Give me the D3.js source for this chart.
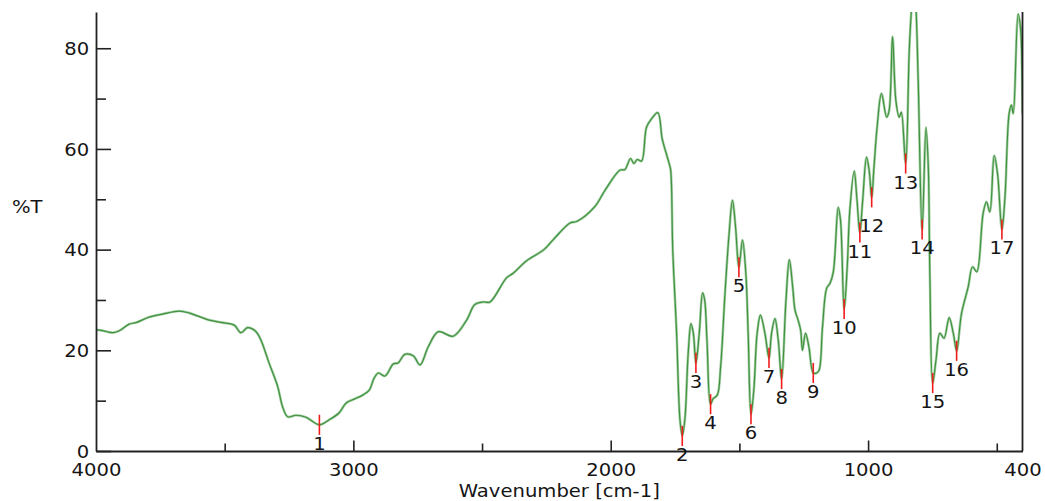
<!DOCTYPE html>
<html><head><meta charset="utf-8">
<script src="https://cdn.jsdelivr.net/npm/d3@7"></script>
<style>html,body{margin:0;padding:0;background:#fff;} svg{display:block;}</style>
</head><body>
<svg id="chart" width="1045" height="501"></svg>
<script>
// ---- data ----
const wavenumber = [4000,3974,3935,3909,3871,3845,3793,3741,3676,3637,3560,3508,3463,3437,3411,3378,3359,3327,3294,3275,3255,3223,3184,3132,3094,3055,3029,2997,2964,2938,2920,2903,2877,2845,2826,2800,2767,2741,2709,2670,2612,2560,2528,2495,2469,2405,2379,2327,2262,2223,2158,2132,2061,2022,1964,1945,1923,1910,1897,1880,1861,1841,1817,1800,1786,1773,1767,1759,1744,1731,1722,1712,1699,1688,1679,1669,1656,1643,1635,1626,1612,1602,1586,1573,1556,1540,1527,1515,1502,1488,1475,1466,1455,1444,1431,1418,1401,1385,1375,1362,1349,1336,1319,1306,1293,1284,1272,1262,1255,1243,1230,1213,1200,1190,1177,1161,1148,1135,1116,1107,1093,1081,1071,1054,1043,1032,1021,1006,996,986,977,965,948,928,918,905,892,879,871,854,840,831,822,814,805,790,775,766,760,749,736,721,705,685,669,656,637,611,594,578,553,540,527,510,497,480,468,452,443,436,417,408,400];
const transmittance = [24.1,23.9,23.5,23.9,25.2,25.5,26.6,27.2,27.8,27.4,26.0,25.5,25.0,23.5,24.5,23.7,22.0,17.4,12.8,8.8,6.8,7.1,6.7,5.2,6.2,7.6,9.5,10.3,11.1,12.1,14.4,15.5,14.9,17.3,17.5,19.2,18.9,17.1,20.7,23.7,22.8,26.0,29.1,29.6,29.6,34.4,35.3,37.8,39.9,42.0,45.3,45.6,48.6,51.8,55.8,55.9,58.1,57.1,57.9,57.6,64.3,66.0,67.2,62.0,59.4,57.1,55.8,40.0,23.4,6.2,3.0,6.2,19.4,25.3,23.4,17.5,23.4,31.4,30.0,22.0,9.3,10.4,11.1,16.7,31.3,43.2,49.8,44.5,36.5,41.9,35.3,23.4,7.3,12.1,23.4,27.0,23.4,18.5,23.4,26.3,22.0,14.3,30.0,38.0,32.6,28.0,26.0,24.0,20.0,23.4,20.7,15.5,15.5,16.1,24.7,32.3,33.3,35.6,48.4,45.8,28.2,36.6,47.8,55.6,49.8,43.4,49.8,58.4,55.8,50.4,56.4,64.3,71.0,66.3,67.7,82.3,69.6,66.3,67.3,57.1,79.6,88.0,93.0,88.0,73.0,44.0,64.3,56.4,35.3,13.5,18.1,23.4,22.4,26.5,23.4,19.9,27.3,32.6,36.6,35.6,47.2,49.5,47.5,58.7,55.1,44.0,50.5,67.0,68.7,67.0,86.8,84.2,67.0];

const peakNumbers = [1,2,3,4,5,6,7,8,9,10,11,12,13,14,15,16,17];
const peakWavenumber = [3132,1722,1669,1612,1502,1455,1385,1336,1213,1093,1032,986,854,790,749,656,480];
const peakTransmittance = [5.2,3.0,17.5,9.3,36.5,7.3,18.5,14.3,15.5,28.2,43.4,50.4,57.1,44.0,13.5,19.9,44.0];

const xTickLabels = [4000,3000,2000,1000,400];
const xMajorTickMarks = [3000,2000,1000];
const xMinorTickMarks = [3500,2500,1500,500];
const yMajorTicks = [0,20,40,60,80];
const yMinorTicks = [10,30,50,70];

const xTitle = "Wavenumber [cm-1]";
const yTitle = "%T";

// ---- layout ----
const FONT = "DejaVu Sans";
const FS = 17.5;
const SX = 1.12; // horizontal stretch of the reference lettering
const textColor = "#151515";
const axisColor = "#222";

const svg = d3.select('#chart');
const x = d3.scaleLinear().domain([4000,400]).range([96,1022.5]);
const y = d3.scaleLinear().domain([0,87.2]).range([451,12]);

svg.append("defs").append("clipPath").attr("id","plotclip")
  .append("rect").attr("x",x(4000)).attr("y",y(87.2))
  .attr("width",x(400)-x(4000)).attr("height",y(0)-y(87.2));

// spectrum
const pts = wavenumber.map((w,i)=>[w,transmittance[i]]);
const line = d3.line().x(d=>x(d[0])).y(d=>y(d[1])).curve(d3.curveCatmullRom.alpha(0.5));
const g = svg.append("g").attr("clip-path","url(#plotclip)");
g.append("path").datum(pts).attr("d",line)
  .attr("fill","none").attr("stroke","#a8cfa8").attr("stroke-width",2.6).attr("stroke-linejoin","round");
g.append("path").datum(pts).attr("d",line)
  .attr("fill","none").attr("stroke","#3f933f").attr("stroke-width",1.2).attr("stroke-linejoin","round");

// x axis: tick marks pointing up (major longer than minor)
const xAxisMarks = svg.append("g").attr("transform",`translate(0,${y(0)})`)
  .call(d3.axisBottom(x).tickValues(xMajorTickMarks).tickSizeInner(-10.5).tickSizeOuter(0).tickFormat(""));
xAxisMarks.select(".domain").attr("stroke",axisColor).attr("stroke-width",1.8);
xAxisMarks.selectAll(".tick line").attr("stroke",axisColor).attr("stroke-width",1.6);

const xAxisMinor = svg.append("g").attr("transform",`translate(0,${y(0)})`)
  .call(d3.axisBottom(x).tickValues(xMinorTickMarks).tickSizeInner(-7.5).tickSizeOuter(0).tickFormat(""));
xAxisMinor.select(".domain").remove();
xAxisMinor.selectAll(".tick line").attr("stroke",axisColor).attr("stroke-width",1.6);

const xAxisLabels = svg.append("g").attr("transform",`translate(0,${y(0)})`)
  .call(d3.axisBottom(x).tickValues(xTickLabels).tickSize(0).tickFormat(d3.format("d")));
xAxisLabels.select(".domain").remove();
xAxisLabels.selectAll(".tick text")
  .attr("y",25).attr("dy",0)
  .attr("transform",`scale(${SX},1)`)
  .attr("font-family",FONT).attr("font-size",FS).attr("fill",textColor);

// y axis: major and minor ticks pointing right
const yAxis = svg.append("g").attr("transform",`translate(${x(4000)},0)`)
  .call(d3.axisLeft(y).tickValues(yMajorTicks).tickSizeInner(-15).tickSizeOuter(0).tickPadding(6).tickFormat(d3.format("d")));
yAxis.select(".domain").attr("stroke",axisColor).attr("stroke-width",1.8);
yAxis.selectAll(".tick line").attr("stroke",axisColor).attr("stroke-width",1.6);
yAxis.selectAll(".tick text")
  .attr("x",-6).attr("dy","0.36em")
  .attr("transform",`scale(${SX},1)`)
  .attr("font-family",FONT).attr("font-size",FS).attr("fill",textColor);

const yMinor = svg.append("g").attr("transform",`translate(${x(4000)},0)`)
  .call(d3.axisLeft(y).tickValues(yMinorTicks).tickSizeInner(-10).tickSizeOuter(0).tickFormat(""));
yMinor.select(".domain").remove();
yMinor.selectAll(".tick line").attr("stroke",axisColor).attr("stroke-width",1.6);

// right frame line
svg.append("line").attr("x1",x(400)).attr("x2",x(400)).attr("y1",y(0)).attr("y2",y(87.2))
  .attr("stroke",axisColor).attr("stroke-width",1.8);

// axis titles
function stretchedText(parent, tx, ty, str, anchor){
  return parent.append("text")
    .attr("transform",`translate(${tx},${ty}) scale(${SX},1)`)
    .attr("text-anchor",anchor)
    .attr("font-family",FONT).attr("font-size",FS).attr("fill",textColor)
    .text(str);
}
stretchedText(svg, (x(4000)+x(400))/2, 497, xTitle, "middle");
stretchedText(svg, 12, 213, yTitle, "start");

// peak markers
const peaks = peakNumbers.map((n,i)=>({n, w:peakWavenumber[i], t:peakTransmittance[i]}));
const markerG = svg.append("g");
markerG.selectAll("line").data(peaks).join("line")
  .attr("x1",d=>x(d.w)).attr("x2",d=>x(d.w))
  .attr("y1",d=>y(d.t+2)).attr("y2",d=>y(d.t-2))
  .attr("stroke","#f01c1c").attr("stroke-width",1.6);

// peak labels (shifted down once if they would collide with a neighbouring marker)
const labelG = svg.append("g");
peaks.forEach(p=>{
  const px = x(p.w);
  let base = y(p.t) + 25;
  const t = stretchedText(labelG, px, base, String(p.n), "middle");
  const bb = t.node().getBBox();
  const halfW = bb.width*SX/2;
  const top = base - FS*0.73 - 3, bottom = base + 3;
  const hit = peaks.some(q=>{
    if(q===p) return false;
    const qx = x(q.w);
    return qx > px-halfW-2 && qx < px+halfW+2 && y(q.t-2) > top && y(q.t+2) < bottom;
  });
  if(hit) base += 10;
  t.attr("transform",`translate(${px},${base}) scale(${SX},1)`);
});
</script>
</body></html>
